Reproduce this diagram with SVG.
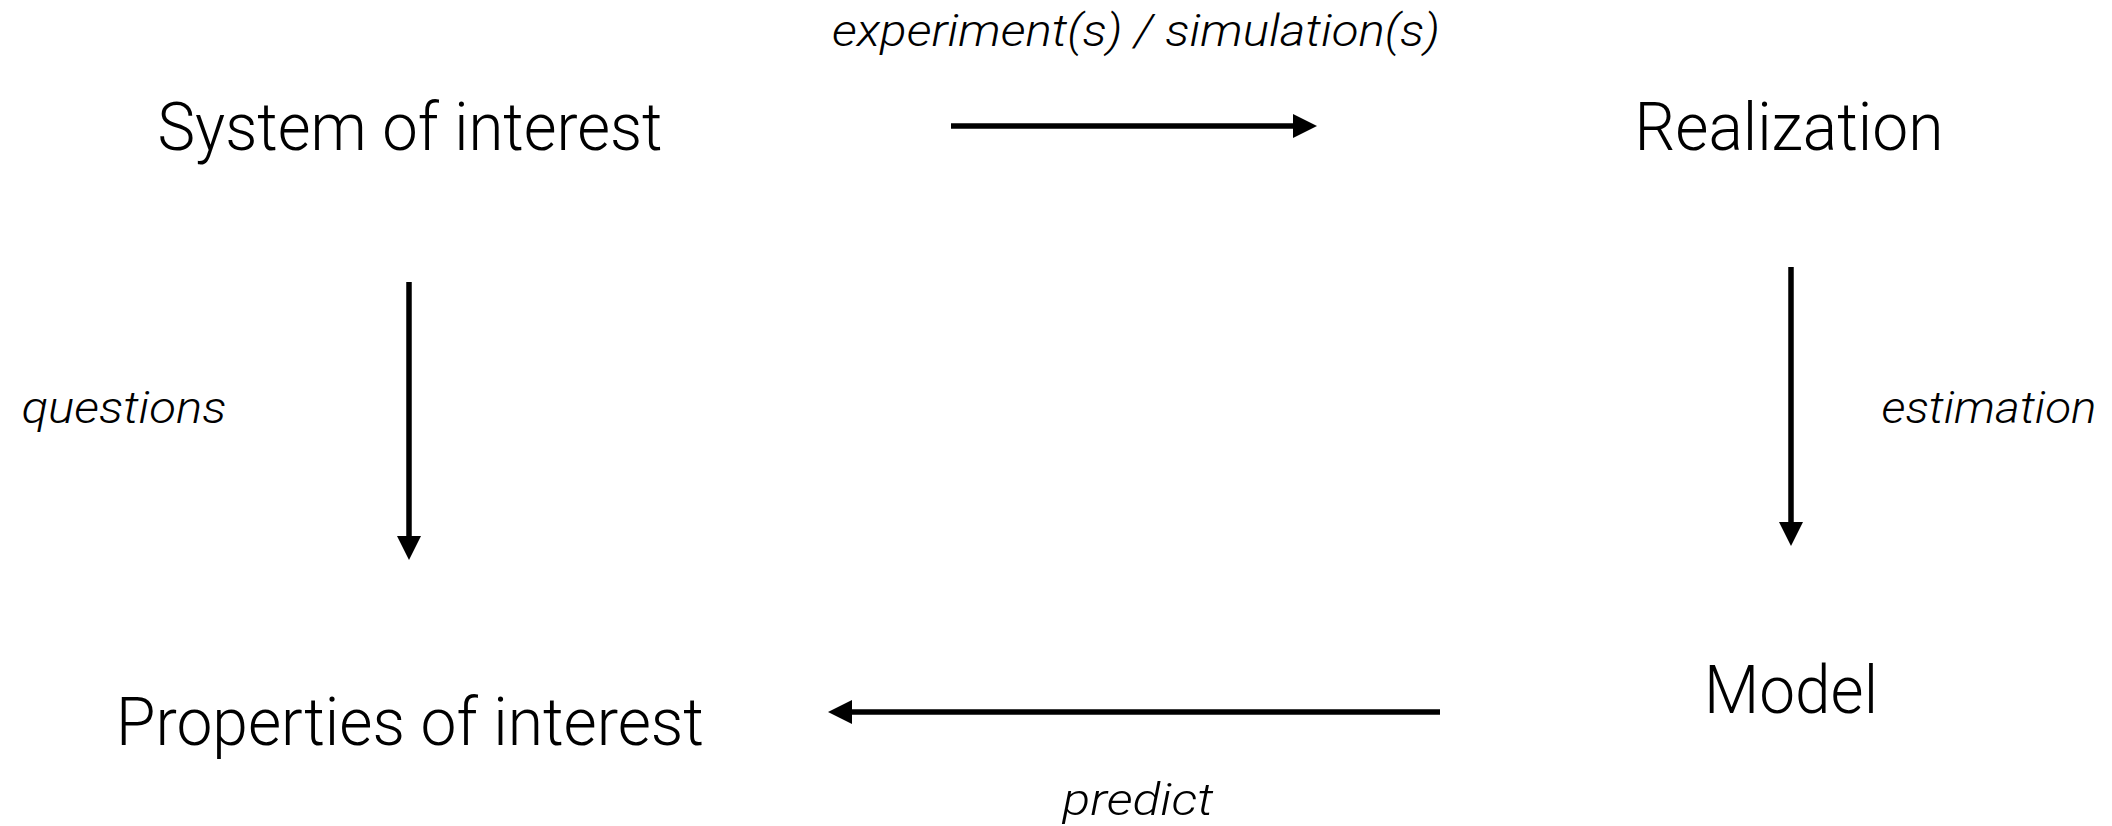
<svg xmlns="http://www.w3.org/2000/svg" width="2112" height="826" viewBox="0 0 2112 826">
<style>
.node{font-family:Roboto,"Liberation Sans",Arial,sans-serif;font-weight:300;font-size:66px;fill:#000;text-anchor:middle}
.lbl{font-family:Roboto,"Liberation Sans",Arial,sans-serif;font-weight:300;font-style:italic;font-size:45px;fill:#000;text-anchor:middle}
.conn{stroke:#000;stroke-width:5.5;fill:none;marker-end:url(#ah)}
</style>
<defs>
<marker id="ah" markerUnits="userSpaceOnUse" markerWidth="25" markerHeight="25" refX="0" refY="12" orient="auto" viewBox="0 0 25 24">
<path d="M0,0 L24,12 L0,24 Z" fill="#000"/>
</marker>
</defs>
<rect width="2112" height="826" fill="#fff"/>
<g id="system"><text class="node" x="410" y="150" textLength="505" lengthAdjust="spacingAndGlyphs">System of interest</text></g>
<g id="realization"><text class="node" x="1789" y="150" textLength="309" lengthAdjust="spacingAndGlyphs">Realization</text></g>
<g id="properties"><text class="node" x="410" y="745" textLength="588" lengthAdjust="spacingAndGlyphs">Properties of interest</text></g>
<g id="model"><text class="node" x="1791" y="713" textLength="174" lengthAdjust="spacingAndGlyphs">Model</text></g>
<g id="connectors">
<line class="conn" x1="951" y1="126" x2="1293" y2="126"/>
<line class="conn" x1="409" y1="282" x2="409" y2="536"/>
<line class="conn" x1="1791" y1="267" x2="1791" y2="522"/>
<line class="conn" x1="1440" y1="712" x2="852" y2="712"/>
<text class="lbl" x="1136" y="46" textLength="608" lengthAdjust="spacingAndGlyphs">experiment(s) / simulation(s)</text>
<text class="lbl" x="124" y="423" textLength="205" lengthAdjust="spacingAndGlyphs">questions</text>
<text class="lbl" x="1989" y="423" textLength="215" lengthAdjust="spacingAndGlyphs">estimation</text>
<text class="lbl" x="1138" y="815" textLength="151" lengthAdjust="spacingAndGlyphs">predict</text>
</g>
</svg>
